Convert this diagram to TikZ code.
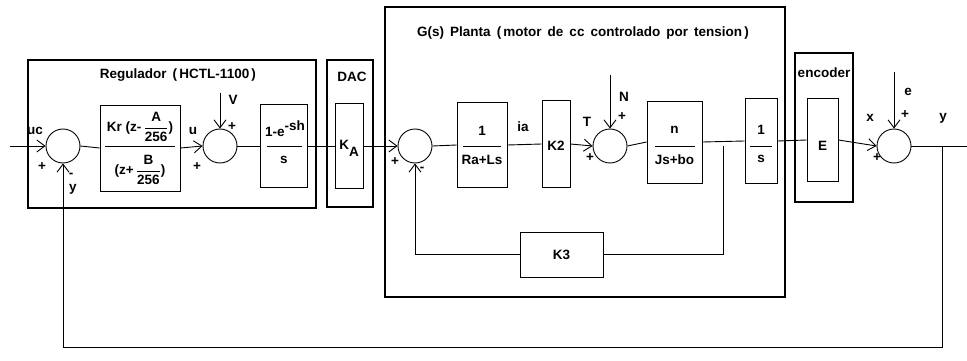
\documentclass[tikz,border=0pt]{standalone}
\usepackage{fontspec}
\usepackage{amsmath}
\setmainfont{Liberation Sans}
\usetikzlibrary{arrows.meta}
\begin{document}
\begin{tikzpicture}[x=1pt,y=-1pt,
  font=\bfseries\fontsize{13.5}{15}\selectfont,
  blk/.style={draw, line width=0.9pt, inner sep=0pt},
  grp/.style={draw, line width=2.4pt, inner sep=0pt},
  sumc/.style={draw, circle, minimum size=34pt, inner sep=0pt, line width=0.9pt},
  sig/.style={line width=0.9pt},
  arr/.style={sig, -{Straight Barb[length=8pt,width=12pt]}},
  lbl/.style={inner sep=0pt}]
\useasboundingbox (0,0) rectangle (967,361);
% group frames
\node[grp, minimum width=288pt, minimum height=148pt] (reg) at (172,134) {};
\node[grp, minimum width=46pt, minimum height=147pt] (dac) at (350,133.5) {};
\node[grp, minimum width=400pt, minimum height=290pt] (plant) at (585,152) {};
\node[grp, minimum width=58pt, minimum height=149pt] (enc) at (824,127.5) {};
\node[lbl] (regt) at (178,75) {Regulador \,(\,HCTL-1100\,)};
\node[lbl] (dact) at (352,77) {DAC};
\node[lbl] (enct) at (824,73) {encoder};
\node[lbl] (plantt) at (583,33) {G(s) \,Planta \,(\,motor \,de \,cc \,controlado \,por \,tension\,)};
% summing junctions
\node[sumc] (s1) at (63,146) {};
\node[sumc] (s2) at (220,146) {};
\node[sumc] (s3) at (415,146) {};
\node[sumc] (s4) at (610,146) {};
\node[sumc] (s5) at (894,146) {};
% blocks
\node[blk, minimum width=80pt, minimum height=86pt] (kr) at (140,148) {};
\node[blk, minimum width=47pt, minimum height=83pt] (ex) at (283.5,146) {};
\node[blk, minimum width=28pt, minimum height=85pt] (ka) at (349,146) {};
\node[blk, minimum width=50pt, minimum height=85pt] (ra) at (482,145) {};
\node[blk, minimum width=28pt, minimum height=87pt] (k2) at (556,144) {};
\node[blk, minimum width=55pt, minimum height=82pt] (js) at (674.5,142) {};
\node[blk, minimum width=32pt, minimum height=85pt] (int) at (761,141) {};
\node[blk, minimum width=31pt, minimum height=83pt] (eb) at (822.5,140) {};
\node[blk, minimum width=83pt, minimum height=45pt] (k3) at (561.5,254.5) {};
% block contents
\draw[sig] (105,146) -- (175,146);
\node[lbl] (krn) at (140,127) {Kr (z-\,$\dfrac{\text{A}}{\text{256}}$)};
\node[lbl] (krd) at (140,170) {(z+\,$\dfrac{\text{B}}{\text{256}}$)};
\draw[sig] (267,146) -- (302,146);
\node[lbl] (exn) at (285,129) {1-e\raisebox{6pt}{-sh}};
\node[lbl] (exd) at (284,160) {s};
\node[lbl] (kat) at (349,148) {K\raisebox{-7pt}{A}};
\draw[sig] (463,146) -- (501,146);
\node[lbl] (ran) at (482,131) {1};
\node[lbl] (rad) at (482,160) {Ra+Ls};
\node[lbl] (k2t) at (556,146) {K2};
\draw[sig] (655,146) -- (695,146);
\node[lbl] (jsn) at (674.5,130) {n};
\node[lbl] (jsd) at (674.5,160) {Js+bo};
\draw[sig] (750,146) -- (772,146);
\node[lbl] (intn) at (761,130) {1};
\node[lbl] (intd) at (761,159) {s};
\node[lbl] (ebt) at (822.5,146) {E};
\node[lbl] (k3t) at (561.5,255) {K3};
% signal labels
\node[lbl] at (35,131) {uc};
\node[lbl] at (42,167) {+};
\node[lbl] at (71,175) {-};
\node[lbl] at (73,189) {y};
\node[lbl] at (193,131) {u};
\node[lbl] at (197,167) {+};
\node[lbl] at (233,100) {V};
\node[lbl] at (232,127) {+};
\node[lbl] at (395,162) {+};
\node[lbl] at (422,169) {-};
\node[lbl] at (523,127) {ia};
\node[lbl] at (587,122) {T};
\node[lbl] at (590,158) {+};
\node[lbl] at (624,97) {N};
\node[lbl] at (622,117) {+};
\node[lbl] at (870,118) {x};
\node[lbl] at (877,158) {+};
\node[lbl] at (908,92) {e};
\node[lbl] at (905,115) {+};
\node[lbl] at (943,118) {y};
% coordinates
\coordinate (in) at (10,146);
\coordinate (vin) at (220,93);
\coordinate (nin) at (610,75);
\coordinate (ein) at (894,72);
\coordinate (out) at (967,146);
\coordinate (b1) at (723,146);
\coordinate (b2) at (942,146);
% connectors
\draw[arr] (in) -- (s1.west);
\draw[sig] (s1.east) -- (kr.west);
\draw[arr] (kr.east) -- (s2.west);
\draw[arr] (vin) -- (s2.north);
\draw[sig] (s2.east) -- (ex.west);
\draw[sig] (ex.east) -- (ka.west);
\draw[arr] (ka.east) -- (s3.west);
\draw[sig] (s3.east) -- (ra.west);
\draw[sig] (ra.east) -- (k2.west);
\draw[arr] (k2.east) -- (s4.west);
\draw[arr] (nin) -- (s4.north);
\draw[sig] (s4.east) -- (js.west);
\draw[sig] (js.east) -- (int.west);
\draw[sig] (int.east) -- (eb.west);
\draw[arr] (eb.east) -- (s5.west);
\draw[arr] (ein) -- (s5.north);
\draw[sig] (s5.east) -- (out);
\draw[sig] (b1) |- (k3.east);
\draw[arr] (k3.west) -| (s3.south);
\draw[arr] (b2) -- (942,347) -| (s1.south);
\end{tikzpicture}
\end{document}
